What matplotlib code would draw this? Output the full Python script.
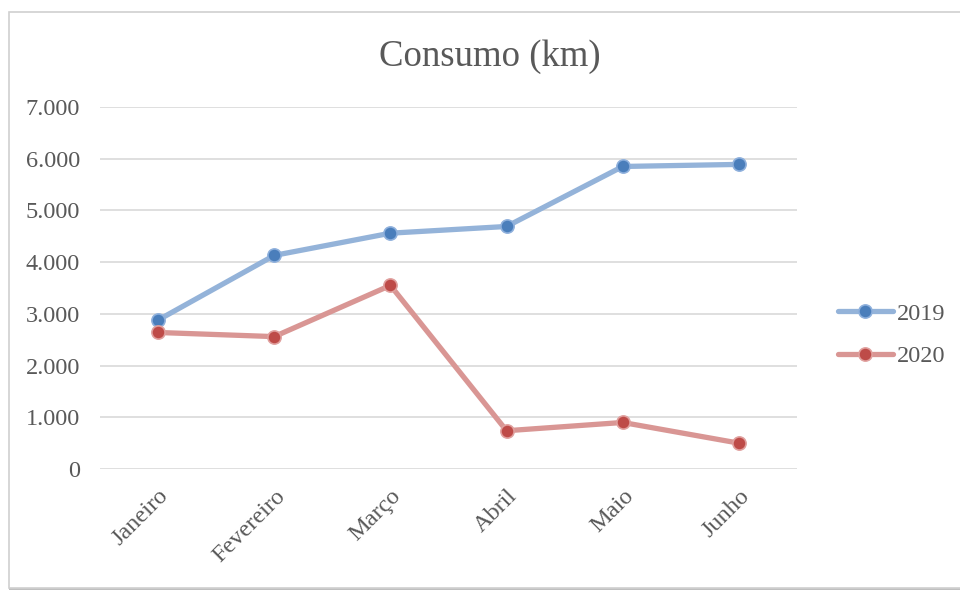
import matplotlib.pyplot as plt
from matplotlib.patches import Rectangle
from matplotlib.ticker import FuncFormatter

months = ["Janeiro", "Fevereiro", "Março", "Abril", "Maio", "Junho"]
consumo_2019 = [2880, 4130, 4560, 4690, 5850, 5890]
consumo_2020 = [2640, 2560, 3550, 740, 900, 500]
y_ticks = [0, 1000, 2000, 3000, 4000, 5000, 6000, 7000]

plt.rcParams['font.family'] = ['Liberation Serif', 'DejaVu Serif']

fig = plt.figure(figsize=(9.6, 5.9), dpi=100)
W, H = 960, 590

# moldura do gráfico (estilo Excel)
frame = Rectangle((9 / W, 1 - 588 / H), 1.0, (588 - 12) / H, transform=fig.transFigure,
                  facecolor='white', edgecolor='#d0d0d0', linewidth=1.2, zorder=-2)
fig.patches.append(frame)
shadow = Rectangle((9 / W, 1 - 590 / H), 1.0, 2 / H, transform=fig.transFigure,
                   facecolor='#bfbfbf', edgecolor='none', zorder=-3)
fig.patches.append(shadow)

ax = fig.add_axes([100 / W, 1 - 469 / H, (797 - 100) / W, (469 - 107) / H])
ax.set_facecolor('none')

x = list(range(len(months)))
ax.plot(x, consumo_2019, color='#94b3d9', linewidth=3.8, marker='o', markersize=9.5,
        markerfacecolor='#4a7ebb', markeredgecolor='#8eb0dc', markeredgewidth=1.2,
        label='2019', solid_capstyle='round', zorder=3)
ax.plot(x, consumo_2020, color='#d99694', linewidth=3.8, marker='o', markersize=9.5,
        markerfacecolor='#be4b48', markeredgecolor='#e0a09e', markeredgewidth=1.2,
        label='2020', solid_capstyle='round', zorder=3)

ax.set_xlim(-0.5, len(months) - 0.5)
ax.set_ylim(0, 7000)
ax.set_yticks(y_ticks)
ax.yaxis.set_major_formatter(FuncFormatter(lambda v, p: f"{int(v):,}".replace(",", ".")))
ax.grid(axis='y', color='#d9d9d9', linewidth=1.2, zorder=0)
ax.set_axisbelow(True)
for s in ax.spines.values():
    s.set_visible(False)
ax.tick_params(axis='both', length=0, labelsize=17.5, labelcolor='#595959')
ax.tick_params(axis='y', pad=14.5)
ax.set_xticks(x)
ax.set_xticklabels(months, rotation=45, ha='right', rotation_mode='anchor')
ax.tick_params(axis='x', pad=12)

fig.text(490 / W, 1 - 57 / H, "Consumo (km)", ha='center', va='center',
         fontsize=26.5, color='#595959')

leg = ax.legend(loc='center left', bbox_to_anchor=(816 / W, 1 - 335 / H),
                bbox_transform=fig.transFigure, frameon=False, fontsize=17.5,
                handlelength=2.26, handletextpad=0.15, labelspacing=0.85)
for t in leg.get_texts():
    t.set_color('#595959')

fig.savefig('out.png', dpi=100)
